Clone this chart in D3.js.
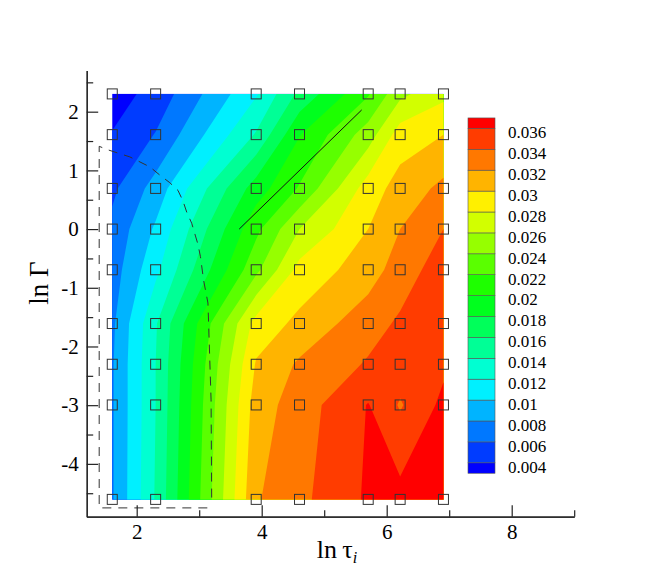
<!DOCTYPE html>
<html>
<head>
<meta charset="utf-8">
<script src="https://cdn.jsdelivr.net/npm/d3@7"></script>
<style>
body { margin: 0; background: #fff; }
svg text { font-family: "Liberation Serif", "Times New Roman", serif; fill: #000; }
</style>
</head>
<body>
<div id="chart"></div>
<script>
// grid nodes : ln(tau_i) along x, ln(Gamma) along y (top row first)
const lnTau = [1.609, 2.303, 3.912, 4.605, 5.704, 6.215, 6.908];
const lnGamma = [2.303, 1.609, 0.693, 0, -0.693, -1.609, -2.303, -2.996, -4.605];

// values, one row per lnGamma
const values = [
    [0.0031, 0.0047, 0.0118, 0.0165, 0.0218, 0.0255, 0.0275],
    [0.0041, 0.0061, 0.0142, 0.0199, 0.0250, 0.0290, 0.0300],
    [0.0056, 0.0088, 0.0190, 0.0222, 0.0290, 0.0308, 0.0325],
    [0.0065, 0.0103, 0.0215, 0.0260, 0.0300, 0.0320, 0.0340],
    [0.0070, 0.0115, 0.0235, 0.0287, 0.0310, 0.0330, 0.0350],
    [0.0076, 0.0138, 0.0288, 0.0305, 0.0332, 0.0343, 0.0352],
    [0.0078, 0.0140, 0.0302, 0.0323, 0.0342, 0.0350, 0.0356],
    [0.0078, 0.0140, 0.0310, 0.0330, 0.0361, 0.0338, 0.0365],
    [0.0078, 0.0142, 0.0318, 0.0335, 0.0363, 0.0367, 0.0370]
];

const levels = [0.004, 0.006, 0.008, 0.010, 0.012, 0.014, 0.016, 0.018, 0.020,
                0.022, 0.024, 0.026, 0.028, 0.030, 0.032, 0.034, 0.036];
const levelLabels = ["0.004", "0.006", "0.008", "0.01", "0.012", "0.014", "0.016", "0.018", "0.02",
                     "0.022", "0.024", "0.026", "0.028", "0.03", "0.032", "0.034", "0.036"];
// one colour per band, lowest band first
const bandColors = ["#0000ff", "#003cff", "#0078ff", "#00b4ff", "#00f0ff", "#00ffd2",
                    "#00ff96", "#00ff5a", "#00ff1e", "#1eff00", "#5aff00", "#96ff00",
                    "#d2ff00", "#fff000", "#ffb400", "#ff7800", "#ff3c00", "#ff0000"];

const xMajor = [2, 4, 6, 8];
const xMinor = [3, 5, 7, 9];
const yMajor = [-4, -3, -2, -1, 0, 1, 2];
const yMinor = [-4.5, -3.5, -2.5, -1.5, -0.5, 0.5, 1.5, 2.5];

// dashed boundary and solid line (data coords)
const dashedLine = [[3.13, -4.75], [1.40, -4.75], [1.40, 1.41], [1.54, 1.35], [1.89, 1.23],
                    [2.21, 1.06], [2.37, 0.92], [2.53, 0.79], [2.66, 0.66], [2.74, 0.48],
                    [2.80, 0.29], [2.88, 0.10], [2.98, -0.26], [3.02, -0.47], [3.07, -0.87],
                    [3.14, -1.26], [3.19, -2.91], [3.20, -4.62]];
const solidLine = [[3.64, 0], [5.60, 2.03]];

const width = 654, height = 582;

const svg = d3.select("#chart")
    .append("svg")
    .attr("width", width)
    .attr("height", height);

svg.append("rect").attr("width", width).attr("height", height).attr("fill", "#fff");

let x = d3.scaleLinear().domain([1.2, 9]).range([86.7, 574.2]);
let y = d3.scaleLinear().domain([-4.9, 2.7]).range([516.7, 70.6]);

// grid coordinate (from d3.contours) -> data coordinate
function gridTo(arr, g) {
    let t = Math.max(0, Math.min(arr.length - 1, g - 0.5));
    let i = Math.min(Math.floor(t), arr.length - 2);
    return arr[i] + (arr[i + 1] - arr[i]) * (t - i);
}

const nx = lnTau.length, ny = lnGamma.length;
const contours = d3.contours()
    .size([nx, ny])
    .thresholds(levels)(values.flat());

const proj = d3.geoTransform({
    point: function(gx, gy) {
        this.stream.point(x(gridTo(lnTau, gx)), y(gridTo(lnGamma, gy)));
    }
});
const path = d3.geoPath(proj);

// lowest band under everything
svg.append("rect")
    .attr("x", x(lnTau[0]))
    .attr("y", y(lnGamma[0]))
    .attr("width", x(lnTau[nx - 1]) - x(lnTau[0]))
    .attr("height", y(lnGamma[ny - 1]) - y(lnGamma[0]))
    .attr("fill", bandColors[0]);

svg.append("g")
    .selectAll("path")
    .data(contours)
    .join("path")
    .attr("d", path)
    .attr("fill", (d, i) => bandColors[i + 1]);

// lines
const line = d3.line().x(d => x(d[0])).y(d => y(d[1]));

svg.append("path")
    .datum(dashedLine)
    .attr("d", line)
    .attr("fill", "none")
    .attr("stroke", "#333")
    .attr("stroke-width", 1)
    .attr("stroke-dasharray", "9,7");

svg.append("path")
    .datum(solidLine)
    .attr("d", line)
    .attr("fill", "none")
    .attr("stroke", "#111")
    .attr("stroke-width", 1);

// data points
svg.append("g")
    .selectAll("rect")
    .data(d3.cross(lnTau, lnGamma))
    .join("rect")
    .attr("x", d => x(d[0]) - 5)
    .attr("y", d => y(d[1]) - 5)
    .attr("width", 10)
    .attr("height", 10)
    .attr("fill", "none")
    .attr("stroke", "#333")
    .attr("stroke-width", 1);

// axes
function styleAxis(g) {
    g.attr("font-size", 21).attr("font-family", null);
    g.selectAll("path, line").attr("stroke", "#222").attr("stroke-width", 1.2);
}

svg.append("g")
    .attr("transform", "translate(0," + y.range()[0] + ")")
    .call(d3.axisBottom(x).tickValues(xMinor).tickSizeInner(-6.5).tickSizeOuter(0).tickFormat(""))
    .call(styleAxis);

svg.append("g")
    .attr("transform", "translate(0," + y.range()[0] + ")")
    .call(d3.axisBottom(x).tickValues(xMajor).tickSizeInner(-11.5).tickSizeOuter(0)
        .tickPadding(7).tickFormat(d => String(d)))
    .call(styleAxis);

svg.append("g")
    .attr("transform", "translate(" + x.range()[0] + ",0)")
    .call(d3.axisLeft(y).tickValues(yMinor).tickSizeInner(-6.5).tickSizeOuter(0).tickFormat(""))
    .call(styleAxis);

svg.append("g")
    .attr("transform", "translate(" + x.range()[0] + ",0)")
    .call(d3.axisLeft(y).tickValues(yMajor).tickSizeInner(-11.5).tickSizeOuter(0)
        .tickPadding(8).tickFormat(d => String(d)))
    .call(styleAxis);

// axis titles
let xTitle = svg.append("text")
    .attr("x", 337)
    .attr("y", 558)
    .attr("text-anchor", "middle")
    .style("font-size", "26px");
xTitle.append("tspan").text("ln\u2009τ");
xTitle.append("tspan")
    .attr("dy", 5)
    .style("font-size", "16px")
    .style("font-style", "italic")
    .text("i");

svg.append("text")
    .attr("transform", "translate(48,283) rotate(-90)")
    .attr("text-anchor", "middle")
    .style("font-size", "27px")
    .text("ln Γ");

// legend
let ly = d3.scaleLinear().domain([0.004, 0.036]).range([462.8, 128.4]);
let step = (ly(0.004) - ly(0.006));
let legendX = 468, legendW = 27;

let legend = svg.append("g");
legend.selectAll("rect")
    .data(bandColors)
    .join("rect")
    .attr("x", legendX)
    .attr("y", (d, i) => i == bandColors.length - 1 ? ly(0.036) - step / 2 : ly(levels[i]))
    .attr("width", legendW)
    .attr("height", (d, i) => (i == 0 || i == bandColors.length - 1) ? step / 2 : step)
    .attr("fill", d => d)
    .attr("stroke", "#555")
    .attr("stroke-width", 0.6);

legend.selectAll("text")
    .data(levels)
    .join("text")
    .attr("x", 508)
    .attr("y", d => ly(d) + 9.8)
    .style("font-size", "17px")
    .text((d, i) => levelLabels[i]);
</script>
</body>
</html>
